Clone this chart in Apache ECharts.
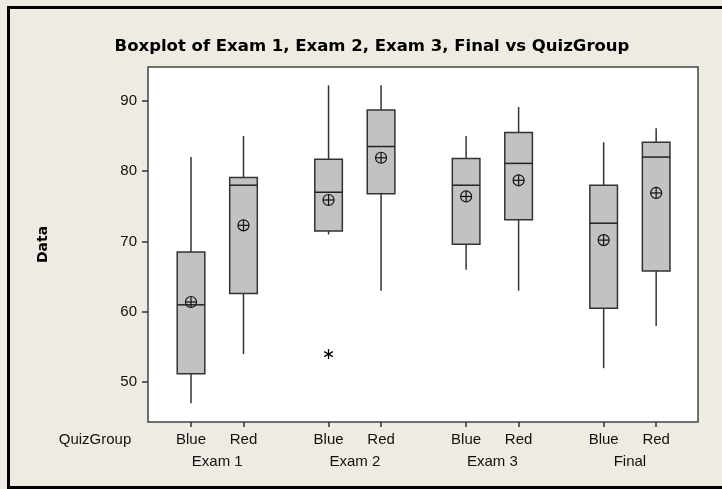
<!DOCTYPE html>
<html><head><meta charset="utf-8">
<script src="https://cdn.jsdelivr.net/npm/echarts@6/dist/echarts.min.js"></script>
<style>html,body{margin:0;padding:0;background:#EEEBE2}#c{width:722px;height:489px}</style>
</head><body><div id="c"></div>
<script>
// ---- data ----
const exams = ['Exam 1', 'Exam 2', 'Exam 3', 'Final'];
const quizGroups = ['Blue', 'Red'];
// box order: Exam1 Blue, Exam1 Red, Exam2 Blue, Exam2 Red, Exam3 Blue, Exam3 Red, Final Blue, Final Red
const whiskerLow  = [47,   54,   71,   63,   66,   63,   52,   58];
const q1          = [51.2, 62.6, 71.5, 76.8, 69.6, 73.1, 60.5, 65.8];
const median      = [61,   78,   77,   83.5, 78,   81.1, 72.6, 82];
const q3          = [68.5, 79.1, 81.7, 88.7, 81.8, 85.5, 78,   84.1];
const whiskerHigh = [82,   85,   92.2, 92.2, 85,   89.1, 84.1, 86.1];
const means       = [61.4, 72.3, 75.9, 81.9, 76.4, 78.7, 70.2, 76.9];
const outlierBox  = [2];
const outlierVal  = [54];
const yTicks = [50, 60, 70, 80, 90];

// ---- layout helpers ----
const GROUP_STEP = 2.62;
function pos(i) { return Math.floor(i / 2) * GROUP_STEP + (i % 2); }
const boxPositions = whiskerLow.map((_, i) => pos(i));
const groupCenters = exams.map((_, g) => g * GROUP_STEP + 0.5);

const FONT = '"Liberation Sans", Arial, sans-serif';
const DARK = '#333';

const boxData = whiskerLow.map((_, i) => [pos(i), whiskerLow[i], q1[i], median[i], q3[i], whiskerHigh[i]]);
const meanData = means.map((m, i) => [pos(i), m]);
const outlierData = outlierBox.map((b, k) => [pos(b), outlierVal[k]]);

const chart = echarts.init(document.getElementById('c'), null, {renderer: 'canvas'});
chart.setOption({
  backgroundColor: '#EEEBE2',
  animation: false,
  title: {
    text: 'Boxplot of Exam 1, Exam 2, Exam 3, Final vs QuizGroup',
    left: 367, top: 33, textAlign: 'center',
    textStyle: {fontFamily: '"DejaVu Sans", sans-serif', fontWeight: 'bold', fontSize: 16.5, color: '#000'}
  },
  grid: {left: 148, right: 24, top: 67, bottom: 67, show: true, backgroundColor: '#fff', borderColor: '#444', borderWidth: 1.5},
  xAxis: [{
    type: 'value', min: -0.819, max: 9.657, position: 'bottom',
    splitLine: {show: false}, axisLine: {show: false, onZero: false},
    axisTick: {show: true, customValues: boxPositions, length: 5, lineStyle: {color: DARK, width: 1.5}},
    axisLabel: {customValues: boxPositions, margin: 10, fontFamily: FONT, fontSize: 15, color: '#111',
      formatter: v => { const i = boxPositions.findIndex(p => Math.abs(p - v) < 1e-6); return i >= 0 ? quizGroups[i % 2] : ''; }}
  }, {
    type: 'value', min: -0.819, max: 9.657, position: 'bottom',
    splitLine: {show: false}, axisLine: {show: false, onZero: false}, axisTick: {show: false},
    axisLabel: {customValues: groupCenters, margin: 32, fontFamily: FONT, fontSize: 15, color: '#111',
      formatter: v => { const g = groupCenters.findIndex(p => Math.abs(p - v) < 1e-6); return g >= 0 ? exams[g] : ''; }}
  }],
  yAxis: {
    type: 'value', min: 44.35, max: 94.8, position: 'left',
    name: 'Data', nameLocation: 'middle', nameGap: 98, nameRotate: 90,
    nameTextStyle: {fontFamily: '"DejaVu Sans", sans-serif', fontWeight: 'bold', fontSize: 14, color: '#000'},
    splitLine: {show: false}, axisLine: {show: false, onZero: false},
    axisTick: {show: true, customValues: yTicks, length: 6, lineStyle: {color: DARK, width: 1.5}},
    axisLabel: {customValues: yTicks, margin: 11, fontFamily: FONT, fontSize: 15, color: '#111'}
  },
  graphic: [
    {type: 'rect', shape: {x: 7, y: 6, width: 3, height: 483}, style: {fill: '#000'}},
    {type: 'rect', shape: {x: 7, y: 6, width: 715, height: 3}, style: {fill: '#000'}},
    {type: 'rect', shape: {x: 7, y: 486, width: 715, height: 3}, style: {fill: '#000'}},
    {type: 'text', x: 95, y: 440, style: {text: 'QuizGroup', align: 'center', verticalAlign: 'middle', font: '15px ' + FONT, fill: '#111'}}
  ],
  series: [{
    type: 'custom', xAxisIndex: 0, yAxisIndex: 0, data: boxData,
    renderItem: (params, api) => {
      const x = api.value(0);
      const pLow = api.coord([x, api.value(1)]);
      const pQ1 = api.coord([x, api.value(2)]);
      const pMed = api.coord([x, api.value(3)]);
      const pQ3 = api.coord([x, api.value(4)]);
      const pHigh = api.coord([x, api.value(5)]);
      const hw = 13.8;
      const ls = {stroke: DARK, lineWidth: 1.5};
      return {type: 'group', children: [
        {type: 'line', shape: {x1: pLow[0], y1: pLow[1], x2: pQ1[0], y2: pQ1[1]}, style: ls},
        {type: 'line', shape: {x1: pQ3[0], y1: pQ3[1], x2: pHigh[0], y2: pHigh[1]}, style: ls},
        {type: 'rect', shape: {x: pQ3[0] - hw, y: pQ3[1], width: 2 * hw, height: pQ1[1] - pQ3[1]}, style: {fill: '#C2C2C2', stroke: DARK, lineWidth: 1.5}},
        {type: 'line', shape: {x1: pMed[0] - hw, y1: pMed[1], x2: pMed[0] + hw, y2: pMed[1]}, style: {stroke: '#222', lineWidth: 1.5}}
      ]};
    }
  }, {
    type: 'custom', data: meanData,
    renderItem: (params, api) => {
      const p = api.coord([api.value(0), api.value(1)]);
      const r = 5.5;
      const st = {stroke: '#111', lineWidth: 1.2, fill: null};
      return {type: 'group', children: [
        {type: 'circle', shape: {cx: p[0], cy: p[1], r: r}, style: {stroke: '#111', lineWidth: 1.2, fill: 'rgba(0,0,0,0)'}},
        {type: 'line', shape: {x1: p[0] - r, y1: p[1], x2: p[0] + r, y2: p[1]}, style: st},
        {type: 'line', shape: {x1: p[0], y1: p[1] - r, x2: p[0], y2: p[1] + r}, style: st}
      ]};
    }
  }, {
    type: 'custom', data: outlierData,
    renderItem: (params, api) => {
      const p = api.coord([api.value(0), api.value(1)]);
      const a = 5;
      const c = Math.cos(Math.PI / 6) * a, s = Math.sin(Math.PI / 6) * a;
      const st = {stroke: '#000', lineWidth: 1.3};
      return {type: 'group', children: [
        {type: 'line', shape: {x1: p[0], y1: p[1] - a, x2: p[0], y2: p[1] + a}, style: st},
        {type: 'line', shape: {x1: p[0] - c, y1: p[1] - s, x2: p[0] + c, y2: p[1] + s}, style: st},
        {type: 'line', shape: {x1: p[0] - c, y1: p[1] + s, x2: p[0] + c, y2: p[1] - s}, style: st}
      ]};
    }
  }]
});
</script></body></html>
